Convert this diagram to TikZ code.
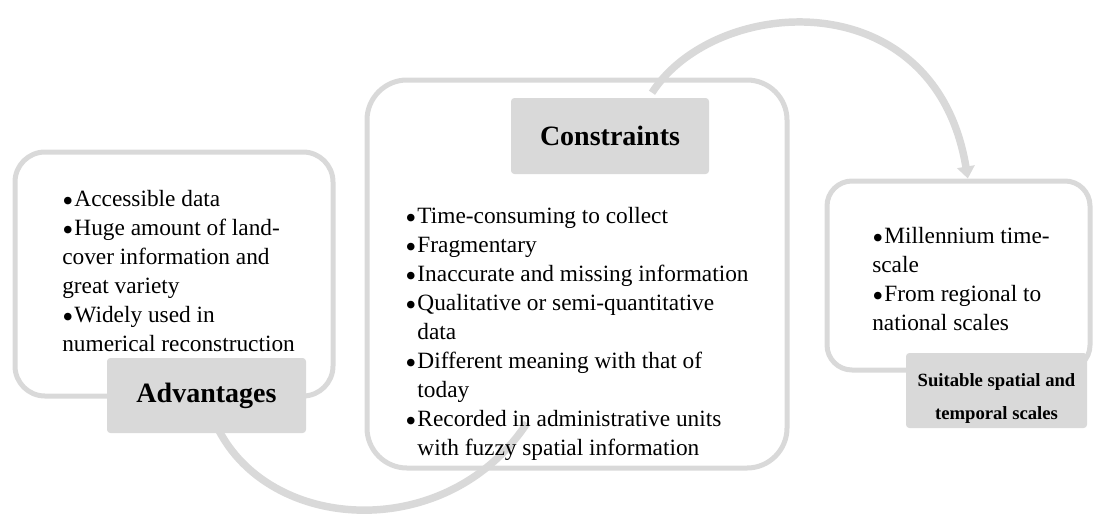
\documentclass[tikz,border=0pt]{standalone}
\usepackage{fontspec}
\setmainfont{Liberation Serif}
\usetikzlibrary{calc,arrows.meta,backgrounds}
\definecolor{lightgrey}{HTML}{D9D9D9}
\newcommand{\itm}{\raisebox{-0.22em}{\scalebox{1.35}{\textbullet}}\kern0.05em}

\begin{document}
\begin{tikzpicture}[x=0.75pt, y=-0.75pt,
    panel/.style={draw=lightgrey, line width=3.75pt, inner sep=0pt},
    tag/.style={fill=lightgrey, rounded corners=2.5pt, inner sep=0pt, font=\bfseries\fontsize{21}{25}\selectfont},
    items/.style={anchor=north west, inner sep=0pt, align=left, font=\fontsize{17.5}{21.75}\selectfont},
    flow/.style={draw=lightgrey, line width=5.6pt}]
    \useasboundingbox (0,0) rectangle (1094,515);
    % the three panels
    \node[panel, rounded corners=22.5pt, minimum width=238.5pt, minimum height=183pt] (advbox) at (174,274) {};
    \node[panel, rounded corners=30pt, minimum width=315pt, minimum height=291pt] (consbox) at (577,274) {};
    \node[panel, rounded corners=18.75pt, minimum width=197.25pt, minimum height=141.75pt] (scalebox) at (958.5,275.5) {};
    % titles
    \node[tag, minimum width=149.25pt, minimum height=56.25pt] (advtag) at (206.5,395.5) {Advantages};
    \node[tag, minimum width=148.5pt, minimum height=57pt] (constag) at (610,136) {Constraints};
    \node[tag, minimum width=135.75pt, minimum height=56.25pt] (scaletag) at (996.5,390.5) {};
    \node[align=center, inner sep=0pt, font=\bfseries\fontsize{14}{24.75}\selectfont] (scaletitle) at ($(scaletag)+(0,8)$) {Suitable spatial and\\temporal scales};
    % bullet lists
    \node[items] (advtext) at (62,190) {\itm Accessible data\\
        \itm Huge amount of land-\\
        cover information and\\
        great variety\\
        \itm Widely used in\\
        numerical reconstruction};
    \node[items] (constext) at (405,207) {\itm Time-consuming to collect\\
        \itm Fragmentary\\
        \itm Inaccurate and missing information\\
        \itm Qualitative or semi-quantitative\\
        \phantom{\itm}data\\
        \itm Different meaning with that of\\
        \phantom{\itm}today\\
        \itm Recorded in administrative units\\
        \phantom{\itm}with fuzzy spatial information};
    \node[items] (scaletext) at (872,227) {\itm Millennium time-\\
        scale\\
        \itm From regional to\\
        national scales};
    \coordinate (tail) at (527,423);
    % the two sweeping arrows
    \begin{scope}[on background layer]
        \draw[flow] (advtag.center) .. controls (235,530) and (440,555) .. (tail);
        \draw[flow, -{Triangle[width=13pt,length=9pt]}] ($(constag.north)+(42,-5)$) .. controls (715,-5) and (935,-20) .. ([xshift=7pt]scalebox.north);
    \end{scope}
\end{tikzpicture}
\end{document}
